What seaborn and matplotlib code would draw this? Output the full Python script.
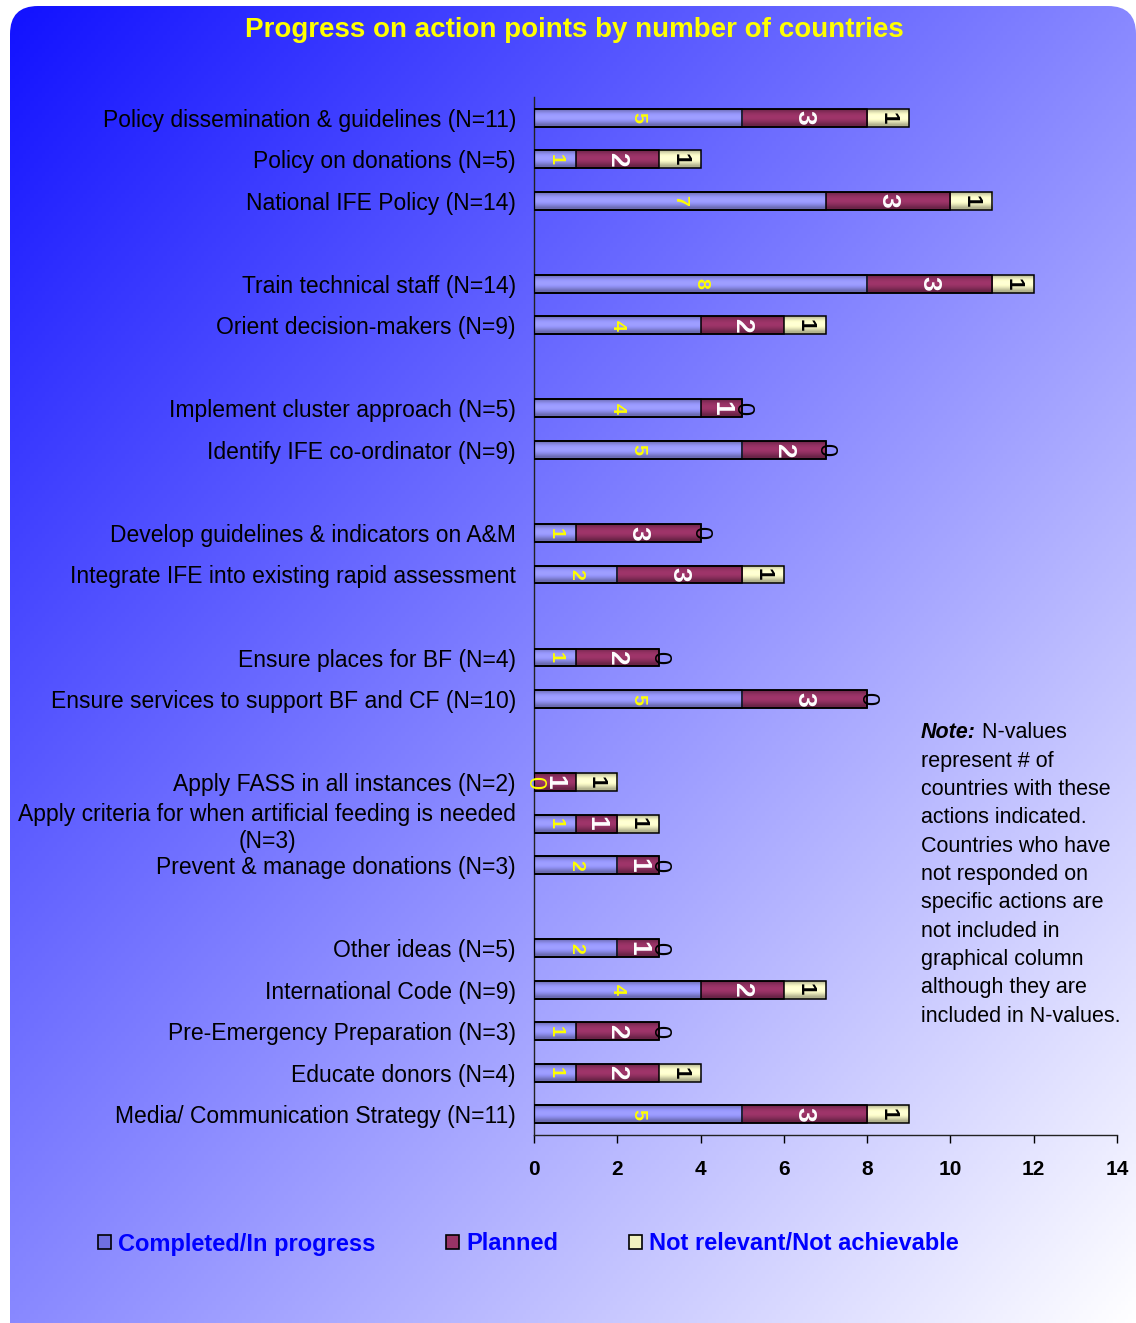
import numpy as np
import pandas as pd
import matplotlib
matplotlib.use("Agg")
import matplotlib.pyplot as plt
from matplotlib.patches import FancyBboxPatch, Patch
import seaborn as sns

# ── Data (top to bottom) ─────────────────────────────────────────────────────
actions = [
    "Policy dissemination & guidelines (N=11)",
    "Policy on donations (N=5)",
    "National IFE Policy (N=14)",
    "Train technical staff (N=14)",
    "Orient decision-makers (N=9)",
    "Implement cluster approach (N=5)",
    "Identify IFE co-ordinator (N=9)",
    "Develop guidelines & indicators on A&M",
    "Integrate IFE into existing rapid assessment",
    "Ensure places for BF (N=4)",
    "Ensure services to support BF and CF (N=10)",
    "Apply FASS in all instances (N=2)",
    "Apply criteria for when artificial feeding is needed\n(N=3)",
    "Prevent & manage donations (N=3)",
    "Other ideas (N=5)",
    "International Code (N=9)",
    "Pre-Emergency Preparation (N=3)",
    "Educate donors (N=4)",
    "Media/ Communication Strategy (N=11)",
]
completed    = [5, 1, 7, 8, 4, 4, 5, 1, 2, 1, 5, 0, 1, 2, 2, 4, 1, 1, 5]
planned      = [3, 2, 3, 3, 2, 1, 2, 3, 3, 2, 3, 1, 1, 1, 1, 2, 2, 2, 3]
not_relevant = [1, 1, 1, 1, 1, 0, 0, 0, 1, 0, 0, 1, 1, 0, 0, 1, 0, 1, 1]
group_sizes  = [3, 2, 2, 2, 2, 3, 5]   # a blank slot sits between groups

series_names = ["Completed/In progress", "Planned", "Not relevant/Not achievable"]
x_ticks = [0, 2, 4, 6, 8, 10, 12, 14]

note_lines = [
    "Note: N-values",
    "represent # of",
    "countries with these",
    "actions indicated.",
    "Countries who have",
    "not responded on",
    "specific actions are",
    "not included in",
    "graphical column",
    "although they are",
    "included in N-values.",
]

BLUE, MAROON, CREAM = "#9999ff", "#993366", "#ffffcc"

# ── Frame ────────────────────────────────────────────────────────────────────
sns.set_theme(style="white")
plt.rcParams["font.family"] = ["Liberation Sans", "DejaVu Sans"]

W, H = 1136, 1323
fig = plt.figure(figsize=(W / 100, H / 100), dpi=100)
fig.patch.set_facecolor("white")

bg = fig.add_axes([0, 0, 1, 1], zorder=0)
bg.set_xlim(0, W); bg.set_ylim(H, 0); bg.axis("off")
gx, gy = np.meshgrid(np.linspace(0, 1, 300), np.linspace(0, 1, 300))
t = ((gx + gy) / 2)[..., None]
c0 = np.array([16, 16, 255]) / 255
c1 = np.array([255, 255, 255]) / 255
grad = c0 + t * (c1 - c0)
frame = FancyBboxPatch((10, 6), W - 10, H + 30, boxstyle="round,pad=0,rounding_size=28",
                       transform=bg.transData, facecolor="none", edgecolor="none")
bg.add_patch(frame)
im = bg.imshow(grad, extent=(0, W, H, 0), aspect="auto")
im.set_clip_path(frame)

# ── Chart ────────────────────────────────────────────────────────────────────
df = pd.DataFrame({"action": actions, "completed": completed,
                   "planned": planned, "not_relevant": not_relevant})
df["cp"] = df["completed"] + df["planned"]
df["total"] = df["cp"] + df["not_relevant"]

order, ylabels = [], []
k = 0
for gi, n in enumerate(group_sizes):
    if gi:
        order.append(f"gap{gi}"); ylabels.append("")
    for _ in range(n):
        order.append(actions[k]); ylabels.append(actions[k]); k += 1

ax = fig.add_axes([534 / W, 1 - 1135 / H, (1117 - 534) / W, (1135 - 97) / H], zorder=1)
ax.patch.set_alpha(0)

for col, color in [("total", CREAM), ("cp", MAROON), ("completed", BLUE)]:
    sns.barplot(data=df, x=col, y="action", order=order, orient="h", color=color,
                saturation=1, edgecolor="black", linewidth=1.1, width=0.43,
                errorbar=None, ax=ax)

# shaded fill for each bar (vertical gradient), outlines kept on top
prof = np.linspace(0, 1, 40)
shade = (0.70 + 0.34 * np.sin(np.pi * np.clip(prof * 1.15, 0, 1)))[:, None, None]
for zi, p in enumerate(list(ax.patches)):
    fc = np.array(p.get_facecolor()[:3])
    p.set_facecolor("none"); p.set_zorder(10)
    x0, y0 = p.get_x(), p.get_y()
    w, h = p.get_width(), p.get_height()
    if w <= 0:
        continue
    img = np.clip(np.tile(fc, (40, 1, 1)) * shade, 0, 1)
    ax.imshow(img, extent=(x0, x0 + w, y0 + h, y0), aspect="auto", zorder=2 + zi * 0.001,
              interpolation="bilinear")

# values inside the bars
styles = [dict(color="#ffff00", fontsize=14, fontweight="bold"),
          dict(color="white", fontsize=19, fontweight="bold"),
          dict(color="black", fontsize=16, fontweight="bold")]
for _, row in df.iterrows():
    y = order.index(row["action"])
    vals = [row["completed"], row["planned"], row["not_relevant"]]
    start = 0
    for v, st in zip(vals, styles):
        kw = dict(st)
        if v == 0:
            kw["fontweight"] = "normal"
            kw["fontsize"] = 17
        ax.text(start + v / 2, y, str(v), rotation=270, ha="center", va="center",
                zorder=12, **kw)
        start += v

ax.set_xlim(0, 14)
ax.set_ylim(len(order) - 0.5, -0.5)
ax.set_xticks(x_ticks)
ax.set_xticklabels([str(v) for v in x_ticks], fontsize=15, fontweight="bold")
ax.set_yticks(range(len(order)))
ax.set_yticklabels(ylabels, fontsize=16.5)
for tl in ax.get_yticklabels():
    tl.set_multialignment("center")
ax.set_xlabel(""); ax.set_ylabel("")
ax.tick_params(axis="y", length=0, pad=13, colors="black")
ax.tick_params(axis="x", length=6, width=1, direction="out", pad=12, colors="black",
               bottom=True)
sns.despine(ax=ax)
for s in ("left", "bottom"):
    ax.spines[s].set_color("#222222"); ax.spines[s].set_linewidth(1)

# ── Title, note, legend ──────────────────────────────────────────────────────
fig.text(574 / W, 1 - 30 / H, "Progress on action points by number of countries",
         ha="center", va="center", color="#ffff00", fontsize=20, fontweight="bold")

nx = 921 / W
for i, line in enumerate(note_lines):
    yy = 1 - (733 + i * 28.3) / H
    if i == 0:
        head, rest = line.split(" ", 1)
        nt = fig.text(nx, yy, head, ha="left", va="center", fontsize=15.5,
                      fontweight="bold", fontstyle="italic", color="black")
        plt.annotate(" " + rest, xy=(1, 0.5), xycoords=nt, ha="left", va="center",
                     fontsize=15.5, color="black", annotation_clip=False)
    else:
        fig.text(nx, yy, line, ha="left", va="center", fontsize=15.5, color="black")

handles = [Patch(facecolor=c, edgecolor="black", linewidth=1.2, label=n)
           for c, n in zip(["#6f6fe0", MAROON, "#f2f2c0"], series_names)]
fig.legend(handles=handles, loc="center", bbox_to_anchor=(0.465, 1 - 1244 / H), ncol=3,
           frameon=False, prop=dict(family=["Liberation Sans Narrow", "Liberation Sans"],
                                    weight="bold", size=17),
           handlelength=0.55, handleheight=0.55, handletextpad=0.3, columnspacing=3.0,
           labelcolor="#0000ff")

fig.savefig("out.png", dpi=100, facecolor=fig.get_facecolor())
